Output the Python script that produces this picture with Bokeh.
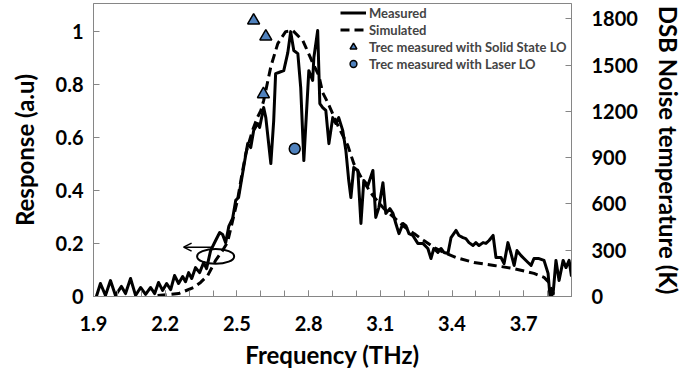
from bokeh.plotting import figure
from bokeh.models import (Range1d, LinearAxis, FixedTicker, Legend, LegendItem,
                          Arrow, OpenHead)
from bokeh.embed import file_html
from bokeh.resources import INLINE

# ---------------- data ----------------
freq_measured = [1.912, 1.929, 1.950, 1.971, 1.992, 2.017, 2.034, 2.055, 2.076, 2.097,
                 2.118, 2.139, 2.156, 2.172, 2.189, 2.206, 2.223, 2.239, 2.256, 2.273,
                 2.285, 2.298, 2.311, 2.327, 2.344, 2.361, 2.373, 2.390, 2.411, 2.428,
                 2.440, 2.453, 2.466, 2.482, 2.495, 2.507, 2.528, 2.545, 2.558, 2.570,
                 2.587, 2.595, 2.612, 2.621, 2.642, 2.654, 2.662, 2.675, 2.696, 2.713,
                 2.725, 2.738, 2.755, 2.767, 2.780, 2.797, 2.801, 2.817, 2.822, 2.838,
                 2.847, 2.859, 2.872, 2.885, 2.901, 2.914, 2.926, 2.943, 2.956, 2.968,
                 2.977, 2.989, 3.006, 3.019, 3.031, 3.048, 3.069, 3.081, 3.094, 3.111,
                 3.123, 3.140, 3.153, 3.165, 3.178, 3.195, 3.207, 3.220, 3.236, 3.257,
                 3.278, 3.299, 3.312, 3.324, 3.341, 3.354, 3.366, 3.383, 3.396, 3.417,
                 3.429, 3.446, 3.458, 3.471, 3.488, 3.500, 3.513, 3.530, 3.542, 3.555,
                 3.572, 3.584, 3.605, 3.618, 3.634, 3.647, 3.660, 3.672, 3.689, 3.701,
                 3.718, 3.731, 3.743, 3.764, 3.785, 3.802, 3.810, 3.823, 3.835, 3.848,
                 3.865, 3.877, 3.890, 3.900]
resp_measured = [0.000, 0.049, 0.004, 0.060, 0.004, 0.038, 0.011, 0.068, 0.004, 0.034,
                 0.008, 0.034, 0.011, 0.053, 0.023, 0.049, 0.026, 0.079, 0.049, 0.075,
                 0.056, 0.090, 0.068, 0.109, 0.090, 0.128, 0.105, 0.173, 0.211, 0.241,
                 0.234, 0.203, 0.264, 0.294, 0.362, 0.373, 0.486, 0.576, 0.561, 0.625,
                 0.652, 0.637, 0.712, 0.674, 0.501, 0.663, 0.840, 0.844, 0.851, 0.919,
                 0.998, 0.927, 0.915, 0.787, 0.512, 0.787, 0.851, 0.814, 0.900, 1.002,
                 0.727, 0.712, 0.701, 0.576, 0.674, 0.652, 0.674, 0.625, 0.550, 0.437,
                 0.373, 0.486, 0.475, 0.275, 0.437, 0.418, 0.475, 0.298, 0.335, 0.429,
                 0.313, 0.331, 0.313, 0.275, 0.237, 0.275, 0.267, 0.237, 0.230, 0.200,
                 0.200, 0.181, 0.143, 0.181, 0.166, 0.181, 0.166, 0.162, 0.222, 0.249,
                 0.230, 0.222, 0.218, 0.203, 0.192, 0.203, 0.192, 0.203, 0.200, 0.211,
                 0.230, 0.147, 0.147, 0.124, 0.203, 0.162, 0.117, 0.173, 0.154, 0.143,
                 0.128, 0.117, 0.143, 0.143, 0.136, 0.087, 0.000, 0.011, 0.136, 0.060,
                 0.136, 0.109, 0.136, 0.075]

freq_simulated = [2.168, 2.223, 2.256, 2.319, 2.348, 2.378, 2.411, 2.440, 2.461, 2.482,
                  2.503, 2.520, 2.537, 2.565, 2.586, 2.600, 2.612, 2.642, 2.671, 2.704,
                  2.734, 2.776, 2.789, 2.817, 2.843, 2.859, 2.880, 2.926, 2.964, 2.989,
                  3.027, 3.069, 3.115, 3.157, 3.199, 3.241, 3.282, 3.324, 3.366, 3.417,
                  3.492, 3.576, 3.660, 3.743, 3.785, 3.806, 3.819, 3.848]
resp_simulated = [0.004, 0.008, 0.011, 0.034, 0.053, 0.079, 0.136, 0.173, 0.205, 0.285,
                  0.365, 0.455, 0.538, 0.625, 0.675, 0.700, 0.738, 0.866, 0.953, 0.998,
                  1.002, 0.964, 0.938, 0.881, 0.832, 0.768, 0.731, 0.637, 0.569, 0.501,
                  0.437, 0.380, 0.331, 0.298, 0.264, 0.237, 0.211, 0.185, 0.166, 0.147,
                  0.128, 0.117, 0.105, 0.087, 0.072, 0.053, 0.011, 0.008]

freq_trec_solid = [2.570, 2.621, 2.611]
trec_solid = [1790, 1686, 1312]
freq_trec_laser = [2.742]
trec_laser = [958]

x_tick_values = [1.9, 2.2, 2.5, 2.8, 3.1, 3.4, 3.7]
x_minor_values = [1.9, 2.0, 2.1, 2.2, 2.3, 2.4, 2.5, 2.6, 2.7, 2.8, 2.9, 3.0,
                  3.1, 3.2, 3.3, 3.4, 3.5, 3.6, 3.7, 3.8, 3.9]
y_tick_values = [0, 0.2, 0.4, 0.6, 0.8, 1]
y_tick_labels = ["0", "0.2", "0.4", "0.6", "0.8", "1"]
y2_tick_values = [0, 300, 600, 900, 1200, 1500, 1800]

# annotation (ellipse + arrow pointing to the left axis)
ellipse_center = (2.411, 0.151)
ellipse_size = (0.155, 0.056)
arrow_from = (2.400, 0.186)
arrow_to = (2.277, 0.186)

FONT = "Lato"
GRAY = "#868686"
BLUE = "#4F81BD"

p = figure(width=686, height=374, output_backend="svg", toolbar_location=None,
           x_range=Range1d(1.9, 3.9), y_range=Range1d(0, 1.104),
           min_border_left=93, min_border_right=115, min_border_top=3,
           min_border_bottom=78)
p.extra_y_ranges = {"right": Range1d(0, 1900)}
p.background_fill_color = "white"
p.border_fill_color = "white"
p.outline_line_color = GRAY
p.outline_line_width = 1
p.xgrid.visible = False
p.ygrid.visible = False

r_meas = p.line(freq_measured, resp_measured, line_color="black", line_width=3,
                line_join="round")
r_sim = p.line(freq_simulated, resp_simulated, line_color="black", line_width=3,
               line_dash="9 5")
r_tri = p.scatter(freq_trec_solid, trec_solid, y_range_name="right", marker="triangle",
                  size=12, fill_color=BLUE, line_color="black", line_width=1.5)
r_cir = p.scatter(freq_trec_laser, trec_laser, y_range_name="right", marker="circle",
                  size=11, fill_color=BLUE, line_color="black", line_width=1.5)

p.ellipse(x=[ellipse_center[0]], y=[ellipse_center[1]], width=ellipse_size[0],
          height=ellipse_size[1], fill_color=None, line_color="black", line_width=2)
p.add_layout(Arrow(end=OpenHead(size=8, line_width=1.5, line_color="black"),
                   x_start=arrow_from[0], y_start=arrow_from[1],
                   x_end=arrow_to[0], y_end=arrow_to[1],
                   line_width=1.5, line_color="black"))


def style_axis(ax, size="20px"):
    ax.axis_line_color = GRAY
    ax.major_tick_line_color = GRAY
    ax.minor_tick_line_color = GRAY
    ax.major_tick_in = 6
    ax.major_tick_out = 0
    ax.minor_tick_in = 0
    ax.minor_tick_out = 0
    ax.major_label_text_font = FONT
    ax.major_label_text_font_style = "bold"
    ax.major_label_text_font_size = size
    ax.major_label_text_color = "black"
    ax.axis_label_text_font = FONT
    ax.axis_label_text_font_style = "bold"
    ax.axis_label_text_font_size = "24px"
    ax.axis_label_text_color = "black"


xa = p.xaxis[0]
style_axis(xa)
xa.ticker = FixedTicker(ticks=x_tick_values, minor_ticks=x_minor_values)
xa.minor_tick_in = 6
xa.axis_label = "Frequency (THz)"
xa.major_label_standoff = 19
xa.axis_label_standoff = 6

ya = p.yaxis[0]
style_axis(ya)
ya.ticker = FixedTicker(ticks=y_tick_values)
ya.major_label_overrides = {v: s for v, s in zip(y_tick_values, y_tick_labels)}
ya.axis_label = "Response (a.u)"
ya.major_label_standoff = 10
ya.axis_label_standoff = 14

y2 = LinearAxis(y_range_name="right", axis_label="DSB Noise temperature (K)")
style_axis(y2)
y2.ticker = FixedTicker(ticks=y2_tick_values)
y2.major_label_standoff = 20
y2.axis_label_standoff = 13
p.add_layout(y2, "right")

legend = Legend(items=[LegendItem(label="Measured", renderers=[r_meas]),
                       LegendItem(label="Simulated", renderers=[r_sim]),
                       LegendItem(label="Trec measured with Solid State LO", renderers=[r_tri]),
                       LegendItem(label="Trec measured with Laser LO", renderers=[r_cir])],
                location=(247, 224), padding=0, margin=0, spacing=0,
                glyph_width=26, glyph_height=17, label_height=17, label_standoff=3,
                label_text_font=FONT, label_text_font_style="bold",
                label_text_font_size="13px", border_line_color=None,
                background_fill_alpha=0)
p.add_layout(legend)

open("out.html", "w").write(file_html(p, INLINE))
